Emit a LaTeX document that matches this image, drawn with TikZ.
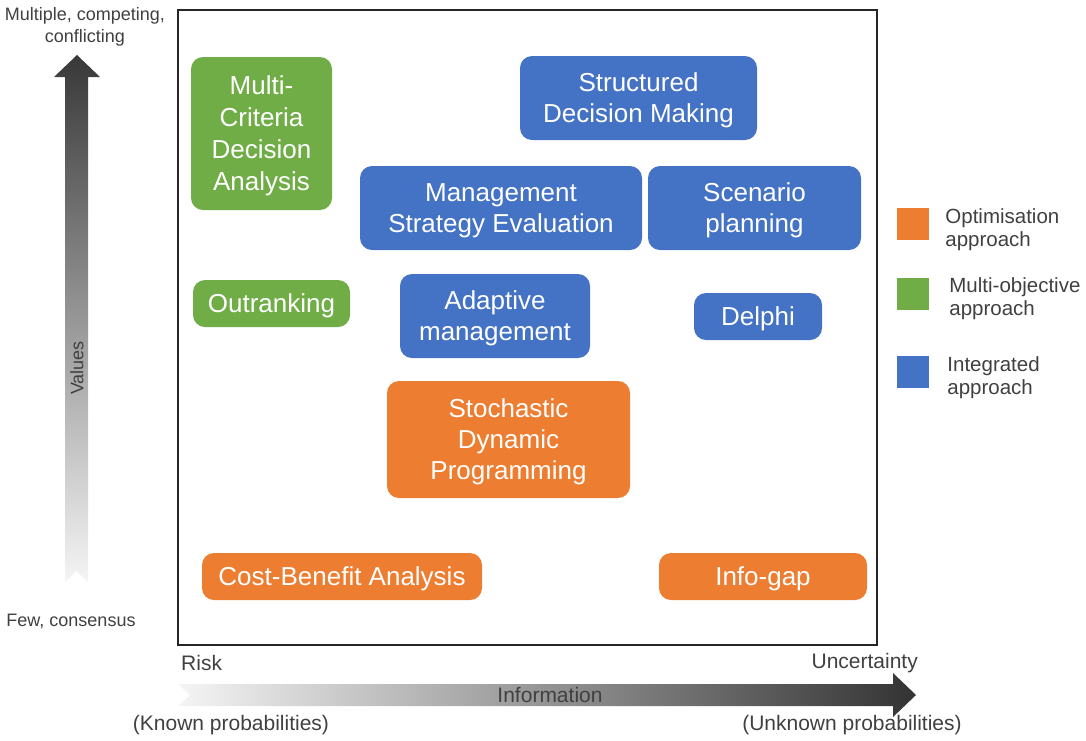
\documentclass[tikz,border=0pt]{standalone}
\usepackage{fontspec}
\setmainfont{Liberation Sans}
\usetikzlibrary{positioning}
\definecolor{orng}{HTML}{ED7D31}
\definecolor{grn}{HTML}{70AD47}
\definecolor{blu}{HTML}{4472C4}
\definecolor{txt}{HTML}{404040}

\begin{document}
\begin{tikzpicture} [x=1pt,y=-1pt,
  box/.style={rounded corners=12pt,align=center,text=white,inner sep=0pt,text depth=-2.5pt,font=\fontsize{26}{31}\selectfont},
  lbl/.style={text=txt,inner sep=0pt,align=center,font=\fontsize{18}{22}\selectfont},
  axis/.style={text=txt,inner sep=0pt,font=\fontsize{21}{24}\selectfont},
  key/.style={minimum size=32pt,inner sep=0pt},
  keytext/.style={text=txt,inner sep=0pt,align=left,font=\fontsize{20.5}{23}\selectfont}]
\useasboundingbox (0,0) rectangle (1086,740);

% frame
\draw[draw=black!85,line width=1.6pt] (178,10) rectangle (877,645);

% approaches
\node[box,fill=grn,minimum width=141pt,minimum height=153pt,font=\fontsize{26}{32}\selectfont] (mcda) at (261.5,133.5) {Multi-\\Criteria\\Decision\\Analysis};
\node[box,fill=grn,minimum width=157pt,minimum height=47pt] (out) at (271.5,303.5) {Outranking};
\node[box,fill=blu,minimum width=237pt,minimum height=84pt] (sdm) at (638.5,98) {Structured\\Decision Making};
\node[box,fill=blu,minimum width=282pt,minimum height=84pt] (mse) at (501,208) {Management\\Strategy Evaluation};
\node[box,fill=blu,minimum width=213pt,minimum height=84pt] (scen) at (754.5,208) {Scenario\\planning};
\node[box,fill=blu,minimum width=190pt,minimum height=84pt] (adapt) at (495,316) {Adaptive\\management};
\node[box,fill=blu,minimum width=128pt,minimum height=47pt] (delphi) at (758,316.5) {Delphi};
\node[box,fill=orng,minimum width=243pt,minimum height=117pt] (sdp) at (508.5,439.5) {Stochastic\\Dynamic\\Programming};
\node[box,fill=orng,minimum width=280pt,minimum height=47pt] (cba) at (342,576.5) {Cost-Benefit Analysis};
\node[box,fill=orng,minimum width=208pt,minimum height=47pt] (gap) at (763,576.5) {Info-gap};

% values axis
\shade[top color=black!78,bottom color=black!4] (65,582) -- (65,77) -- (54,77) -- (77,55) -- (100,77) -- (88,77) -- (88,582) -- (76.5,571) -- cycle;
\node[lbl] (hi) at (85,27) {Multiple, competing,\\conflicting};
\node[lbl,rotate=90] (val) at (77,368) {Values};
\node[lbl] (lo) at (71,621) {Few, consensus};

% information axis
\shade[left color=black!4,right color=black!80] (178,684) -- (893,684) -- (893,673) -- (916,695) -- (893,717) -- (893,706) -- (178,706) -- (190,695) -- cycle;
\node[axis,anchor=west] (risk) at (181,663) {Risk};
\node[axis,anchor=east] (unc) at (918,663) {Uncertainty};
\node[axis] (info) at (550,695) {Information};
\node[axis] (known) at (231,725) {(Known probabilities)};
\node[axis] (unknown) at (852,725) {(Unknown probabilities)};

% legend
\node[key,fill=orng] (ko) at (913,224) {};
\node[key,fill=grn] (kg) at (913,294) {};
\node[key,fill=blu] (kb) at (913,372) {};
\node[keytext,right=16pt of ko,yshift=-6pt] (to) {Optimisation\\approach};
\node[keytext,right=20pt of kg,yshift=-5pt] (tg) {Multi-objective\\approach};
\node[keytext,right=18pt of kb,yshift=-6pt] (tb) {Integrated\\approach};
\end{tikzpicture}
\end{document}
